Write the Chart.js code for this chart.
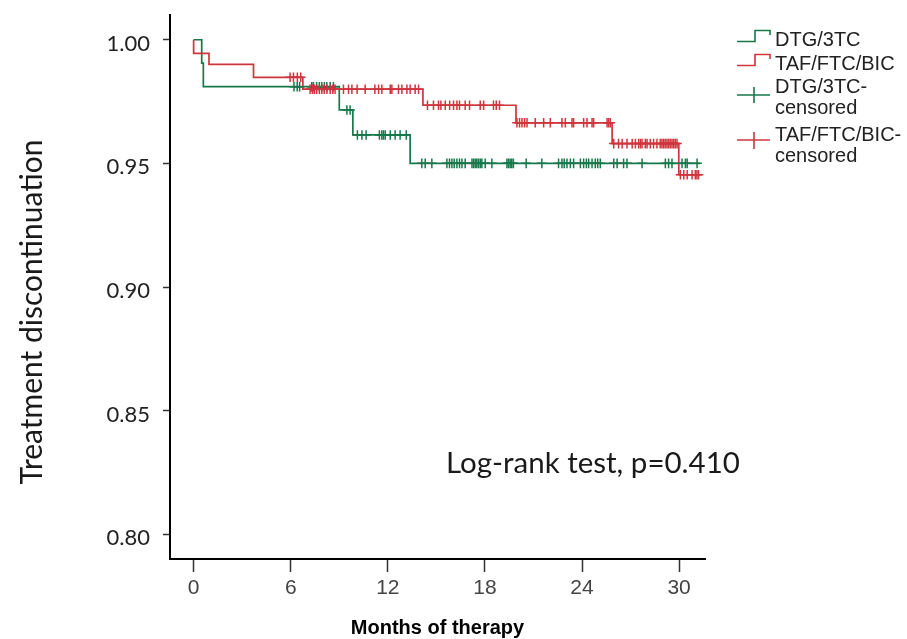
<!DOCTYPE html>
<html>
<head>
<meta charset="utf-8">
<script src="https://cdn.jsdelivr.net/npm/chart.js@4.4.1/dist/chart.umd.min.js"></script>
<style>
  html, body { margin: 0; padding: 0; background: #fff; }
  #wrap { position: relative; width: 907px; height: 639px; overflow: hidden; }
  #wrap canvas { position: absolute; left: 0; top: 0; }
  .lbl { position: absolute; white-space: nowrap; color: #1a1a1a; }
  .leg { font-family: "Liberation Sans", Arial, sans-serif; font-size: 20px; line-height: 21px; color: #222; }
</style>
</head>
<body>
<div id="wrap">
  <canvas id="c" width="907" height="639"></canvas>
  <svg id="legIcons" width="907" height="639" style="position:absolute;left:0;top:0;pointer-events:none"></svg>
  <div id="ytitle" class="lbl">Treatment discontinuation</div>
  <div id="note" class="lbl">Log-rank test, p=0.410</div>
  <div id="leg1" class="lbl leg">DTG/3TC</div>
  <div id="leg2" class="lbl leg">TAF/FTC/BIC</div>
  <div id="leg3" class="lbl leg">DTG/3TC-<br>censored</div>
  <div id="leg4" class="lbl leg">TAF/FTC/BIC-<br>censored</div>
</div>
<script>
// ---------------- DATA ----------------
const seriesNames = ["DTG/3TC", "TAF/FTC/BIC"];
const censorNames = ["DTG/3TC-censored", "TAF/FTC/BIC-censored"];

// Kaplan-Meier steps (month of event, survival after the event)
const dtgStepTimes = [0, 0.5, 0.6, 9.0, 9.84, 13.38, 31.3];
const dtgStepSurv  = [1.0, 0.9905, 0.981, 0.9716, 0.9615, 0.950, 0.950];

const tafStepTimes = [0, 0, 0.95, 3.7, 6.75, 14.17, 19.92, 25.86, 29.98, 31.3];
const tafStepSurv  = [1.0, 0.9945, 0.990, 0.9848, 0.980, 0.9735, 0.9664, 0.958, 0.9454, 0.9454];

// Censoring times (months)
const dtgCensorTimes = [6.2, 6.4, 6.55, 7.3, 7.4, 7.6, 7.77, 7.92, 8.08, 8.23, 8.44, 8.64,
  9.47, 9.67,
  10.12, 10.4, 10.66, 11.48, 11.63, 11.73, 11.84, 12.15, 12.45, 12.76, 13.14,
  14.1, 14.31, 14.72, 15.65, 15.81, 15.96, 16.1, 16.27, 16.43, 16.58, 16.78, 17.2, 17.3, 17.4,
  17.5, 17.6, 17.71, 17.81, 18.02, 18.43, 19.36, 19.46, 19.56, 19.66, 19.76, 20.55, 21.52,
  22.55, 22.76, 22.9, 23.07, 23.28, 23.48, 23.9, 24.1, 24.27, 24.41, 24.62, 24.82, 24.97,
  25.13, 25.96, 26.17, 26.57, 26.78, 27.71, 29.15, 29.35, 29.56, 30.18, 30.39, 30.5, 31.11];

const tafCensorTimes = [5.96, 6.17, 6.41, 6.62,
  7.2, 7.34, 7.46, 7.6, 7.77, 7.92, 8.07, 8.24, 8.44, 8.6, 8.74, 9.26, 9.57, 9.78, 10.1, 10.6,
  11.2, 11.43, 11.63, 12.15, 12.25, 12.66, 12.87, 13.18, 13.38, 13.69, 13.9,
  14.45, 14.82, 15.13, 15.28, 15.55, 15.82, 16.06, 16.27, 16.43, 16.78, 17.05, 17.71, 17.92,
  18.53, 18.7, 18.9,
  19.98, 20.14, 20.29, 20.45, 20.6, 21.11, 21.63, 22.04, 22.76, 22.97, 23.38, 23.48, 24.1,
  24.31, 24.62, 24.72, 25.55, 25.65, 25.75,
  25.96, 26.26, 26.48, 26.78, 27.1, 27.3, 27.5, 27.61, 27.71, 27.91, 28.02, 28.22, 28.42,
  28.63, 28.83, 28.94, 29.04, 29.14, 29.25, 29.35, 29.45, 29.56, 29.66, 29.76, 29.87,
  30.08, 30.29, 30.5, 30.8, 31.0, 31.1, 31.2];

const xTickValues = [0, 6, 12, 18, 24, 30];
const yTickValues = [0.80, 0.85, 0.90, 0.95, 1.00];

// ---------------- STYLE ----------------
const GREEN = "#17784a";
const RED = "#d0343c";

// helpers
function kmPoints(times, surv) { return times.map((t, i) => ({ x: t, y: surv[i] })); }
function survAt(times, surv, t) {
  let s = surv[0];
  for (let i = 0; i < times.length; i++) { if (times[i] <= t) s = surv[i]; }
  return s;
}
function censorPoints(ct, times, surv) { return ct.map(t => ({ x: t, y: survAt(times, surv, t) })); }

function fitFont(text, family, weight, target) {
  const c = document.createElement("canvas").getContext("2d");
  c.font = weight + " 100px " + family;
  return 100 * target / c.measureText(text).width;
}

// ---------------- CHART ----------------
const chart = new Chart(document.getElementById("c"), {
  type: "scatter",
  data: {
    datasets: [
      { label: censorNames[0], data: censorPoints(dtgCensorTimes, dtgStepTimes, dtgStepSurv),
        pointStyle: "cross", pointRadius: 4.8, borderColor: GREEN, backgroundColor: GREEN,
        borderWidth: 1.5, showLine: false, order: 2 },
      { label: censorNames[1], data: censorPoints(tafCensorTimes, tafStepTimes, tafStepSurv),
        pointStyle: "cross", pointRadius: 4.8, borderColor: RED, backgroundColor: RED,
        borderWidth: 1.5, showLine: false, order: 1 },
      { label: seriesNames[0], type: "line", data: kmPoints(dtgStepTimes, dtgStepSurv),
        stepped: "before", borderColor: GREEN, borderWidth: 1.7, pointRadius: 0, fill: false, order: 4 },
      { label: seriesNames[1], type: "line", data: kmPoints(tafStepTimes, tafStepSurv),
        stepped: "before", borderColor: RED, borderWidth: 1.7, pointRadius: 0, fill: false, order: 3 }
    ]
  },
  options: {
    responsive: false,
    animation: false,
    events: [],
    layout: { padding: { top: 15, right: 202, bottom: 0, left: 0 } },
    plugins: { legend: { display: false }, tooltip: { enabled: false }, title: { display: false } },
    scales: {
      x: {
        type: "linear", min: -1.46, max: 31.6,
        afterBuildTicks: s => { s.ticks = xTickValues.map(v => ({ value: v })); },
        afterFit: s => { s.height = 80; s.paddingLeft = 0; s.paddingRight = 0; },
        grid: { drawOnChartArea: false, drawTicks: true, tickLength: 13, tickColor: "#333", tickWidth: 1.5 },
        border: { display: true, color: "#000", width: 2 },
        ticks: { padding: 4, color: "#444", autoSkip: false, maxRotation: 0,
                 font: { family: "'Liberation Sans', Arial, sans-serif", size: 21 },
                 callback: v => String(v) },
        title: { display: true, text: "Months of therapy", color: "#000",
                 font: { family: "'Liberation Sans', Arial, sans-serif", size: 20, weight: "bold" },
                 padding: { top: 0, bottom: -1 } }
      },
      y: {
        type: "linear", min: 0.79, max: 1.01,
        afterBuildTicks: s => { s.ticks = yTickValues.map(v => ({ value: v })); },
        afterFit: s => { s.width = 170; s.paddingTop = 0; s.paddingBottom = 0; },
        grid: { drawOnChartArea: false, drawTicks: true, tickLength: 7, tickColor: "#333", tickWidth: 1.5 },
        border: { display: true, color: "#000", width: 2 },
        ticks: { padding: 13, color: "#222", autoSkip: false, labelOffset: 4,
                 font: { family: "Lato, 'Open Sans', sans-serif", size: 22 },
                 callback: v => Number(v).toFixed(2) }
      }
    }
  }
});

// ---------------- OVERLAY TEXT & LEGEND ----------------
(function () {
  const fam = "Lato, 'Open Sans', sans-serif";
  const yt = document.getElementById("ytitle");
  const ys = fitFont(yt.textContent, "Lato", "normal", 345);
  yt.style.font = ys.toFixed(2) + "px " + fam;
  yt.style.lineHeight = "1";
  yt.style.left = "30px"; yt.style.top = "312px";
  yt.style.transform = "translate(-50%, -50%) rotate(-90deg)";

  const nt = document.getElementById("note");
  const ns = fitFont(nt.textContent, "Lato", "normal", 294);
  nt.style.font = ns.toFixed(2) + "px " + fam;
  nt.style.lineHeight = "1";
  nt.style.left = "446px"; nt.style.top = "462px";
  nt.style.transform = "translateY(-50%)";

  const place = (id, top) => { const e = document.getElementById(id); e.style.left = "775px"; e.style.top = top + "px"; };
  place("leg1", 39 - 10.5);
  place("leg2", 63 - 10.5);
  place("leg3", 86 - 10.5);
  place("leg4", 134 - 10.5);

  const svg = document.getElementById("legIcons");
  const NS = "http://www.w3.org/2000/svg";
  function poly(pts, col) {
    const p = document.createElementNS(NS, "polyline");
    p.setAttribute("points", pts.map(q => q.join(",")).join(" "));
    p.setAttribute("fill", "none"); p.setAttribute("stroke", col); p.setAttribute("stroke-width", "1.6");
    svg.appendChild(p);
  }
  poly([[737, 41.5], [755, 41.5], [755, 30.5], [770, 30.5], [770, 35]], GREEN);
  poly([[737, 65.5], [755, 65.5], [755, 54.5], [770, 54.5], [770, 59]], RED);
  poly([[737, 95], [770, 95]], GREEN); poly([[754, 87], [754, 103]], GREEN);
  poly([[737, 140], [770, 140]], RED); poly([[754, 132], [754, 149]], RED);
})();
</script>
</body>
</html>
